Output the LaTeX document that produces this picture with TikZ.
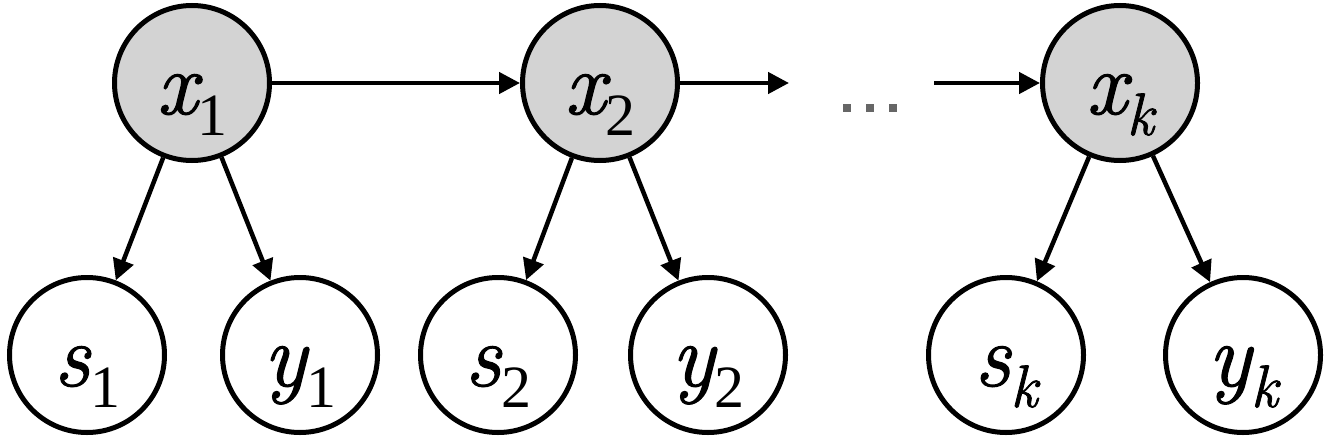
\documentclass[tikz,border=0pt]{standalone}
\usepackage{fontspec}
\newfontfamily\dg{Liberation Serif}
\newfontfamily\itf{Latin Modern Roman}[FakeBold=1.3]
\usetikzlibrary{arrows.meta}
\definecolor{nodegray}{RGB}{211,211,211}
\definecolor{dotgray}{RGB}{102,102,102}
\newcommand\lv[1]{{\itf\itshape #1}}
\newcommand\lab[2]{\lv{#1}\raisebox{-21pt}{\fontsize{60}{60}\selectfont #2}}
\begin{document}
\begin{tikzpicture}[x=1pt,y=-1pt,
  var/.style={circle,draw=black,line width=5pt,minimum size=155pt,inner sep=0pt,
    text height=62pt,text depth=0pt,font=\dg\fontsize{90}{90}\selectfont},
  hid/.style={var,fill=nodegray},
  obs/.style={var,fill=white},
  arr/.style={line width=4.5pt,-{Triangle[length=21pt,width=21pt]}},
  dot/.style={fill=dotgray,inner sep=0pt,minimum size=8pt,draw=none,rectangle}]
\useasboundingbox (0,0) rectangle (1329,444);
\node[hid] (x1) at (192,83) {\lab{x}{1}};
\node[hid] (x2) at (600,83) {\lab{x}{2}};
\node[hid] (xk) at (1120,83) {\lab{x}{\lv{k}}};
\node[obs] (s1) at (87,355) {\lab{s}{1}};
\node[obs] (y1) at (300,355) {\lab{y}{1}};
\node[obs] (s2) at (498,355) {\lab{s}{2}};
\node[obs] (y2) at (708,355) {\lab{y}{2}};
\node[obs] (sk) at (1006,355) {\lab{s}{\lv{k}}};
\node[obs] (yk) at (1243,355) {\lab{y}{\lv{k}}};
\coordinate (e2) at (789,83);
\coordinate (bk) at (934,83);
\node[dot] (d1) at (847,108) {};
\node[dot] (d2) at (870,108) {};
\node[dot] (d3) at (893,108) {};
\draw[arr] (x1) -- (x2);
\draw[arr] (x2) -- (e2);
\draw[arr] (bk) -- (xk);
\draw[arr] (x1) -- (s1);
\draw[arr] (x1) -- (y1);
\draw[arr] (x2) -- (s2);
\draw[arr] (x2) -- (y2);
\draw[arr] (xk) -- (sk);
\draw[arr] (xk) -- (yk);
\end{tikzpicture}
\end{document}
